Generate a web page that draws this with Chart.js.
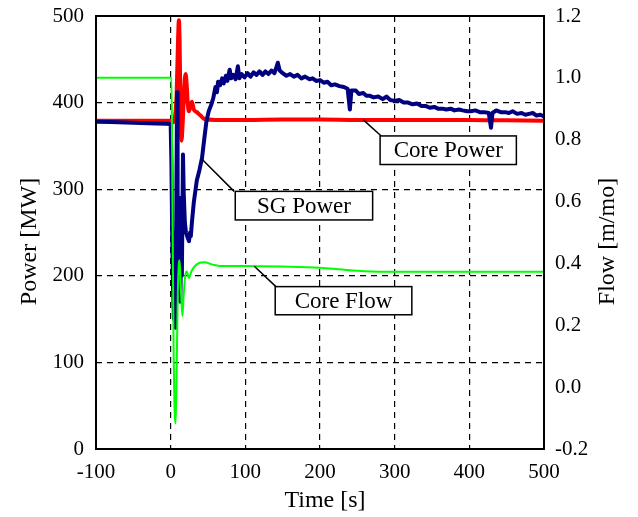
<!DOCTYPE html>
<html><head><meta charset="utf-8">
<script src="https://cdn.jsdelivr.net/npm/chart.js@4.4.0/dist/chart.umd.min.js"></script>
<style>html,body{margin:0;padding:0;background:#fff}canvas{display:block}</style>
</head><body>
<canvas id="c" width="638" height="517"></canvas>
<script>
// ---- data ----
const xTicks = [-100, 0, 100, 200, 300, 400, 500];
const powerTicks = [0, 100, 200, 300, 400, 500];
const flowTicks = [-0.2, 0.0, 0.2, 0.4, 0.6, 0.8, 1.0, 1.2];

const sgTime = [-100,-80,-60,-40,-20,-5,0,1,2,3,4.5,5.5,6.7,7.5,8.5,9.3,10,11,12,13,14,15,16.5,17.5,19,20.5,22,24.5,26,27,28.5,31,35,38.5,42,45,48,51,54.5,57,60,62,63.5,66,69,71,74,76,79,81,84,87,90,92,95,99,103,107,111,115,119,123,127,131,135,139,143.5,146,150,155,160,165,170,175,180,186,190,195,200,205,210,215,220,226,232,237,240,242,248,252,258,262,266,272,278,284,289,294,300,306,312,318,324,330,336,342,347,353,358,364,369,375,380,386,391,397,402,408,414,420,426,429,431,436,442,448,453,458,464,470,475,480,485,490,495,500];
const sgPower = [378,377.5,377,376.5,376,375.5,375,330,250,190,150,200,140,260,412,300,230,180,290,170,250,200,340,295,262,250,246,240,250,246,262,285,310,322,336,358,379,390,398,405,418,412,424,420,428,422,431,425,438,428,432,427,442,428,433,429,434,430,435,432,436,432,436,433,437,434,446,437,434,431,433,430,432,428,430,427,428,425,426,423,424,420,421,419,418,416,392,414,414,410,411,408,408,406,407,404,407,403,402,403,400,400,398,399,396,396,394,395,393,393,392,393,391,392,391,390,390,391,389,389,388,371,388,391,389,389,388,390,387,388,386,387,388,385,386,384];

const coreTime = [-100,-50,0,3,6,8,9.5,11,12,13,14.5,16,18,20,21.5,23,24.5,26.5,28.5,31,35,40,45.5,60,100,150,200,250,300,350,400,450,500];
const corePower = [379,379,379,377,385,410,460,495,470,400,356,375,415,433,420,398,390,396,401,392,389,385,381,380,380,380.5,380.5,380,380,380,380,379.5,379];

const flowTime = [-100,1,2,3,4,5,6.7,8,9.5,11,12,13.5,15.7,17.5,19.5,21.5,24.5,27.7,32,38.8,45.5,55,65.6,100,150,200,230,260,300,400,500];
const coreFlow = [1.0,1.0,0.75,0.4,0.1,-0.05,-0.117,0.05,0.3,0.4,0.41,0.33,0.23,0.3,0.36,0.374,0.353,0.374,0.39,0.402,0.404,0.397,0.392,0.392,0.39,0.386,0.38,0.375,0.373,0.373,0.373];

const seriesNames = ['Core Flow', 'SG Power', 'Core Power'];
const calloutLabels = ['Core Power', 'SG Power', 'Core Flow'];
// callout geometry in data units: [time, power]
const calloutGeom = [
  {from: [258, 380], to: [282, 361.5], box: [280.5, 463, 361.5, 328.5]},
  {from: [42, 334.5], to: [85, 297.5], box: [86.5, 270.5, 297.5, 264.5]},
  {from: [112, 211], to: [141, 187.5], box: [140, 323, 187.5, 155]}
];

const FONT = "'Liberation Serif', 'Times New Roman', serif";
Chart.defaults.font.family = FONT;
Chart.defaults.color = '#000';

const toXY = (ts, vs) => ts.map((t, i) => ({x: t, y: vs[i]}));

const decor = {
  id: 'decor',
  afterDatasetsDraw(chart) {
    const {ctx, chartArea: a, scales: {x, y}} = chart;
    ctx.save();
    ctx.strokeStyle = '#000';
    ctx.lineWidth = 1.5;
    calloutGeom.forEach((g, i) => {
      ctx.beginPath();
      ctx.moveTo(x.getPixelForValue(g.from[0]), y.getPixelForValue(g.from[1]));
      ctx.lineTo(x.getPixelForValue(g.to[0]), y.getPixelForValue(g.to[1]));
      ctx.stroke();
      const bx1 = x.getPixelForValue(g.box[0]), bx2 = x.getPixelForValue(g.box[1]);
      const by1 = y.getPixelForValue(g.box[2]), by2 = y.getPixelForValue(g.box[3]);
      ctx.fillStyle = '#fff';
      ctx.fillRect(bx1, by1, bx2 - bx1, by2 - by1);
      ctx.strokeRect(bx1, by1, bx2 - bx1, by2 - by1);
      ctx.fillStyle = '#000';
      ctx.font = '23px ' + FONT;
      ctx.textAlign = 'center';
      ctx.textBaseline = 'middle';
      ctx.fillText(calloutLabels[i], (bx1 + bx2) / 2, (by1 + by2) / 2 + 1);
    });
    ctx.lineWidth = 2;
    ctx.strokeRect(a.left, a.top, a.right - a.left, a.bottom - a.top);
    ctx.restore();
  },
  afterDraw(chart) {
    const {ctx, chartArea: a} = chart;
    ctx.save();
    ctx.fillStyle = '#000';
    ctx.font = '24px ' + FONT;
    ctx.textAlign = 'center';
    ctx.textBaseline = 'middle';
    const cy = (a.top + a.bottom) / 2 + 9;
    ctx.save(); ctx.translate(a.left - 66, cy); ctx.rotate(-Math.PI / 2); ctx.fillText('Power [MW]', 0, 0); ctx.restore();
    ctx.save(); ctx.translate(a.right + 64, cy); ctx.rotate(-Math.PI / 2); ctx.fillText('Flow [m/mo]', 0, 0); ctx.restore();
    ctx.fillText('Time [s]', (a.left + a.right) / 2 + 5, a.bottom + 52);
    ctx.restore();
  }
};

const gridColorEdge = (lo, hi) => (c) => (c.tick && (c.tick.value === lo || c.tick.value === hi)) ? 'rgba(0,0,0,0)' : '#000';
const noPad = (s) => { s.paddingTop = 0; s.paddingBottom = 0; s.paddingLeft = 0; s.paddingRight = 0; };

new Chart(document.getElementById('c'), {
  type: 'line',
  data: {
    datasets: [
      {label: seriesNames[0], data: toXY(flowTime, coreFlow), yAxisID: 'y1', borderColor: '#00ff00', borderWidth: 2, cubicInterpolationMode: 'monotone', pointRadius: 0},
      {label: seriesNames[1], data: toXY(sgTime, sgPower), yAxisID: 'y', borderColor: '#000080', borderWidth: 4, tension: 0, pointRadius: 0, borderJoinStyle: 'round', borderCapStyle: 'round'},
      {label: seriesNames[2], data: toXY(coreTime, corePower), yAxisID: 'y', borderColor: '#ff0000', borderWidth: 4, cubicInterpolationMode: 'monotone', pointRadius: 0, borderJoinStyle: 'round'}
    ]
  },
  options: {
    responsive: false,
    animation: false,
    devicePixelRatio: 1,
    layout: {padding: {top: 16, left: 0, right: 0, bottom: 0}},
    plugins: {legend: {display: false}, tooltip: {enabled: false}},
    scales: {
      x: {
        type: 'linear', min: xTicks[0], max: xTicks[xTicks.length - 1],
        afterBuildTicks: (s) => { s.ticks = xTicks.map(v => ({value: v})); },
        afterFit: (s) => { s.height = 68; noPad(s); },
        ticks: {font: {size: 21}, padding: 11, maxRotation: 0, autoSkip: false},
        grid: {color: gridColorEdge(-100, 500), lineWidth: 1.2, drawTicks: false},
        border: {display: false, dash: [6, 5]}
      },
      y: {
        type: 'linear', position: 'left', min: 0, max: 500,
        afterBuildTicks: (s) => { s.ticks = powerTicks.map(v => ({value: v})); },
        afterFit: (s) => { s.width = 96; noPad(s); },
        ticks: {font: {size: 21}, padding: 12},
        grid: {color: gridColorEdge(0, 500), lineWidth: 1.2, drawTicks: false},
        border: {display: false, dash: [6, 5]}
      },
      y1: {
        type: 'linear', position: 'right', min: -0.2, max: 1.2,
        afterBuildTicks: (s) => { s.ticks = flowTicks.map(v => ({value: v})); },
        afterFit: (s) => { s.width = 94; noPad(s); },
        ticks: {font: {size: 21}, padding: 11, callback: (v) => Number(v).toFixed(1)},
        grid: {display: false, drawTicks: false},
        border: {display: false}
      }
    }
  },
  plugins: [decor]
});
</script>
</body></html>
